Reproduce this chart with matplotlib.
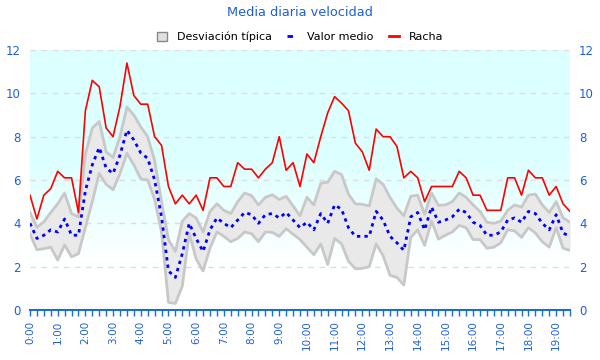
import numpy as np
import matplotlib
matplotlib.use("Agg")
import matplotlib.pyplot as plt
from matplotlib.patches import Patch
from matplotlib.lines import Line2D
from matplotlib.colors import LinearSegmentedColormap

plt.rcParams["font.family"] = ["DejaVu Sans"]

# ---- data (every 15 minutes from 0:00 to 19:30) ----
horas = [i * 0.25 for i in range(79)]

valor_medio = [4.0, 3.3, 3.45, 3.7, 3.6, 4.2, 3.45, 3.45,
               5.5, 6.7, 7.5, 6.55, 6.3, 7.15, 8.3, 7.85,
               7.25, 7.0, 6.0, 4.3, 1.8, 1.5, 2.6, 4.0,
               3.3, 2.7, 3.7, 4.25, 4.0, 3.8, 4.15, 4.5,
               4.4, 4.0, 4.4, 4.45, 4.25, 4.5, 4.15, 3.8,
               4.05, 3.7, 4.45, 4.0, 4.85, 4.65, 3.8, 3.4,
               3.4, 3.4, 4.55, 4.15, 3.4, 3.1, 2.75, 4.3,
               4.5, 3.7, 4.75, 4.05, 4.15, 4.3, 4.65, 4.5,
               4.05, 3.9, 3.45, 3.45, 3.6, 4.15, 4.25, 4.05,
               4.55, 4.45, 4.0, 3.7, 4.4, 3.55, 3.4]

desviacion = [0.5, 0.52, 0.62, 0.8, 1.3, 1.2, 1.0, 0.85,
              1.7, 1.7, 1.2, 0.75, 0.75, 0.85, 1.07, 1.15,
              1.2, 1.0, 0.9, 0.7, 1.45, 1.2, 1.5, 0.45,
              0.95, 0.9, 0.85, 0.65, 0.6, 0.65, 0.85, 0.9,
              0.88, 0.85, 0.8, 0.87, 0.85, 0.75, 0.65, 0.55,
              1.15, 1.15, 1.4, 1.9, 1.55, 1.6, 1.55, 1.5,
              1.48, 1.4, 1.5, 1.65, 1.8, 1.6, 1.6, 0.95,
              0.8, 0.72, 0.65, 0.78, 0.7, 0.7, 0.75, 0.7,
              0.8, 0.65, 0.6, 0.55, 0.5, 0.45, 0.6, 0.7,
              0.75, 0.9, 0.85, 0.8, 0.6, 0.7, 0.65]

racha = [5.3, 4.2, 5.3, 5.6, 6.4, 6.1, 6.1, 4.5,
         9.2, 10.6, 10.3, 8.4, 8.0, 9.4, 11.4, 9.9,
         9.5, 9.5, 8.0, 7.6, 5.7, 4.9, 5.3, 4.9,
         5.3, 4.6, 6.1, 6.1, 5.7, 5.7, 6.8, 6.5,
         6.5, 6.1, 6.5, 6.8, 8.0, 6.45, 6.8, 5.7,
         7.2, 6.8, 8.0, 9.1, 9.85, 9.55, 9.2, 7.7,
         7.3, 6.45, 8.35, 8.0, 8.0, 7.55, 6.1, 6.4,
         6.1, 5.0, 5.7, 5.7, 5.7, 5.7, 6.4, 6.1,
         5.3, 5.3, 4.6, 4.6, 4.6, 6.1, 6.1, 5.3,
         6.45, 6.1, 6.1, 5.3, 5.7, 4.9, 4.55]

hour_labels = [f"{h}:00" for h in range(20)]
y_ticks = [0, 2, 4, 6, 8, 10, 12]

# ---- styling ----
BLUE_TXT = "#1f5fd6"
AXIS_BLUE = "#1a6fd0"

fig = plt.figure(figsize=(6, 3.6), dpi=100)
ax = fig.add_axes([0.05, 0.139, 0.9, 0.722])

x = np.array(horas)
m = np.array(valor_medio)
s = np.array(desviacion)
upper = m + s
lower = m - s

# background gradient
yy = np.linspace(0, 12, 256).reshape(-1, 1)
alpha = np.clip((yy - 2.0) / 5.0, 0, 1)
cmap = LinearSegmentedColormap.from_list("bg", ["#ffffff", "#dcffff"])
ax.imshow(alpha, extent=[0, 19.5, 0, 12], origin="lower", aspect="auto",
          cmap=cmap, vmin=0, vmax=1, zorder=0)

for yv in y_ticks[1:]:
    ax.axhline(yv, color="#dddddd", lw=1, ls=(0, (4, 4)), zorder=1)

ax.fill_between(x, lower, upper, color="#e9e9e9", lw=0, zorder=2)
ax.plot(x, upper, color="#c8c8c8", lw=2, zorder=3)
ax.plot(x, lower, color="#c8c8c8", lw=2, zorder=3)
ax.plot(x, racha, color="#ff0000", lw=1.2, zorder=5)
ax.plot(x, m, color="#0000ff", lw=2, ls=(0, (1.2, 1.5)), zorder=4)

ax.set_xlim(0, 19.5)
ax.set_ylim(0, 12)
ax.set_yticks(y_ticks)
ax.set_xticks(range(20))
ax.set_xticklabels(hour_labels, rotation=90)
ax.set_xticks(np.arange(0, 19.51, 0.25), minor=True)

for sp in ["top", "left", "right"]:
    ax.spines[sp].set_visible(False)
ax.spines["bottom"].set_color(AXIS_BLUE)
ax.spines["bottom"].set_linewidth(1.5)

ax.tick_params(axis="x", which="both", colors=AXIS_BLUE, length=4.5, width=1,
               labelcolor=BLUE_TXT, labelsize=7.5, pad=3)
ax.tick_params(axis="y", length=0, labelcolor=BLUE_TXT, labelsize=8.5, pad=6.5,
               labelright=True, right=False)

fig.text(0.5, 0.964, "Media diaria velocidad", ha="center", va="center",
         color=BLUE_TXT, fontsize=9.3)

handles = [Patch(facecolor="#e0e0e0", edgecolor="#888888", lw=1),
           Line2D([0], [0], color="#0000ff", lw=2, ls=(0, (2, 2.5))),
           Line2D([0], [0], color="#ff0000", lw=2)]
fig.legend(handles, ["Desviación típica", "Valor medio", "Racha"],
           loc="center", bbox_to_anchor=(0.5, 0.897), ncol=3, frameon=False,
           fontsize=8, handlelength=0.9, handleheight=0.8, columnspacing=1.4,
           handletextpad=0.9)

fig.savefig("out.png", dpi=100)
